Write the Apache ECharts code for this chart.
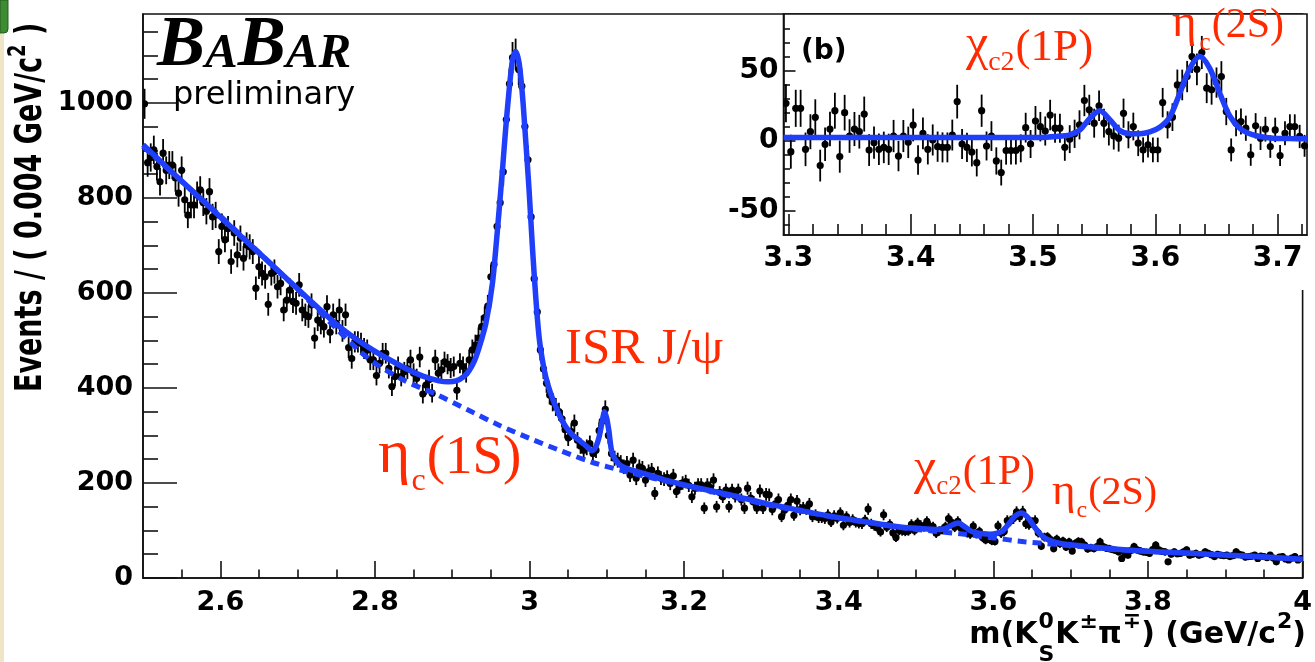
<!DOCTYPE html>
<html>
<head>
<meta charset="utf-8">
<title>BaBar preliminary: m(KsKpi)</title>
<script src="https://cdn.jsdelivr.net/npm/echarts@6.0.0/dist/echarts.min.js"></script>
<style>
html,body{margin:0;padding:0;background:#ffffff;}
#chart{width:1315px;height:662px;}
</style>
</head>
<body>
<div id="chart"></div>
<script>
// ---------------- data ----------------
const binStart = 2.502;   // centre of first bin, GeV/c^2
const binWidth = 0.004;   // GeV/c^2

const mainCounts = [
 998, 874, 885, 901, 866, 834, 894, 858, 869, 869,
 842, 810, 858, 796, 764, 785, 785, 806, 817, 790,
 772, 813, 760, 764, 687, 740, 712, 735, 666, 726,
 680, 715, 673, 701, 697, 687, 610, 655, 641, 634,
 576, 641, 645, 613, 620, 564, 585, 606, 582, 578,
 617, 564, 554, 550, 575, 505, 543, 536, 529, 571,
 517, 554, 536, 564, 520, 554, 485, 462, 497, 497,
 494, 483, 480, 459, 459, 426, 452, 473, 473, 441,
 403, 424, 445, 424, 434, 440, 459, 431, 420, 465,
 387, 406, 418, 389, 459, 431, 438, 455, 450, 442,
 445, 395, 452, 445, 432, 459, 480, 490, 505, 529,
 548, 572, 634, 660, 740, 790, 855, 965, 1040, 1095,
 1102, 1070, 1035, 950, 880, 760, 630, 560, 480, 440,
 410, 385, 370, 360, 350, 335, 312, 295, 308, 326,
 290, 278, 269, 275, 283, 262, 269, 310, 330, 355,
 300, 262, 252, 248, 243, 234, 241, 217, 248, 210,
 234, 231, 206, 224, 227, 178, 220, 210, 208, 212,
 199, 215, 182, 192, 200, 203, 195, 171, 189, 196,
 196, 147, 196, 190, 206, 150, 180, 171, 185, 150,
 185, 172, 185, 165, 147, 189, 168, 160, 147, 183,
 147, 176, 175, 144, 156, 165, 129, 143, 153, 165,
 132, 162, 144, 148, 145, 156, 129, 133, 127, 127,
 125, 133, 118, 131, 126, 137, 111, 129, 117, 123,
 117, 115, 114, 122, 145, 114, 110, 106, 97, 133,
 107, 113, 95, 85, 100, 99, 98, 99, 113, 100,
 116, 111, 108, 119, 109, 108, 94, 99, 102, 108,
 125, 117, 107, 119, 105, 99, 95, 92, 109, 93,
 98, 85, 80, 83, 78, 77, 110, 94, 98, 121,
 120, 125, 139, 129, 140, 114, 112, 117, 121, 95,
 67, 86, 87, 81, 62, 82, 72, 78, 65, 76,
 57, 73, 77, 76, 69, 61, 64, 62, 66, 76,
 66, 63, 62, 60, 58, 55, 41, 52, 48, 58,
 66, 59, 57, 55, 54, 52, 60, 69, 59, 56,
 55, 34, 50, 55, 51, 52, 55, 59, 48, 50,
 52, 48, 50, 55, 52, 49, 45, 50, 48, 47,
 48, 45, 47, 55, 50, 48, 44, 45, 46, 48,
 41, 46, 45, 43, 48, 42, 34, 44, 45, 40,
 38, 42, 45, 38, 41
];

// inset (b): background-subtracted events, bins 199 .. 305 of the main histogram
const insetFirstBin = 199;
const insetValues = [
 26.7, -7.9, 23.1, 23.1, -6.2, 6.4, 16.7, -17.8, -2.6, 8.3,
 21.4, -11.4, 20.0, 3.3, 8.3, 6.4, 19.0, -6.7, -1.4, -6.2,
 -4.8, -6.2, 3.3, -11.0, 3.3, -1.2, 11.2, -13.8, 5.2, -6.2,
 0.5, -4.3, -4.8, -4.8, 4.0, 27.9, -2.4, -4.8, -8.1, -15.7,
 21.4, -3.8, 3.3, -14.5, -22.8, -7.1, -7.1, -7.1, -5.5, 9.3,
 -2.4, 14.0, 10.0, 6.9, 18.3, 8.9, 8.9, -4.7, 1.1, 4.9,
 11.3, 28.7, 22.0, 12.5, 24.9, 12.5, 6.5, 3.4, 1.8, 19.6,
 4.2, 10.1, -1.8, -6.6, -3.0, -6.6, -6.6, 27.2, 11.3, 16.8,
 39.8, 39.8, 45.8, 60.1, 51.0, 63.0, 37.5, 36.3, 41.5, 45.8,
 20.8, -6.6, 12.5, 13.7, 8.9, -10.1, 10.6, 1.8, 8.2, -4.2,
 7.7, -10.6, 5.3, 10.1, 10.1, 3.0, -3.7
];

const fitMass = [2.500, 2.539, 2.582, 2.625, 2.668, 2.711, 2.754, 2.797, 2.840, 2.862,
 2.883, 2.895, 2.905, 2.915, 2.922, 2.929, 2.935, 2.9435, 2.952, 2.9585,
 2.965, 2.969, 2.9736, 2.978, 2.982, 2.9865, 2.991, 2.995, 2.9994, 3.0037,
 3.008, 3.0123, 3.0165, 3.0209, 3.027, 3.0338, 3.040, 3.0467, 3.055, 3.0639,
 3.073, 3.0811, 3.0855, 3.0897, 3.094, 3.097, 3.100, 3.1026, 3.1069, 3.1155,
 3.130, 3.150, 3.176, 3.219, 3.262, 3.305, 3.348, 3.391, 3.434, 3.477,
 3.5056, 3.5301, 3.5383, 3.5465, 3.5546, 3.5628, 3.571, 3.5792, 3.5873, 3.5955,
 3.6037, 3.6118, 3.620, 3.6282, 3.6363, 3.6445, 3.6527, 3.6608, 3.669, 3.6772,
 3.6853, 3.6962, 3.7234, 3.769, 3.812, 3.855, 3.898, 3.941, 4.000];
const fitCounts = [912, 852, 787, 722, 657, 592, 529, 480, 441, 425,
 415, 413, 415, 424, 437, 458, 486, 536, 620, 733,
 859, 943, 1027, 1091, 1108, 1084, 1013, 922, 817, 697,
 592, 508, 460, 424, 390, 361, 338, 319, 302, 290,
 278, 268, 275, 295, 330, 350, 335, 310, 262, 240,
 228, 219, 206, 189, 174, 157, 143, 129.5, 118.5, 108,
 104, 102, 104.5, 111.7, 115.7, 108, 98.7, 95, 93, 92.3,
 93.6, 98.8, 114, 130.4, 137, 127.5, 108.6, 91.7, 81.7, 76.4,
 73.3, 70.5, 65.9, 59.5, 55.5, 52, 48.5, 45, 39.5];

const bkgMass = [2.50, 2.55, 2.60, 2.65, 2.70, 2.75, 2.78, 2.80, 2.84, 2.88,
 2.92, 2.96, 3.00, 3.04, 3.08, 3.12, 3.16, 3.20, 3.24, 3.28,
 3.32, 3.36, 3.40, 3.44, 3.48, 3.52, 3.56, 3.60, 3.64, 3.68,
 3.72, 3.76, 3.80, 3.84, 3.88, 3.92, 3.96, 4.00];
const bkgCounts = [908, 835, 762, 685, 607, 525, 478, 452, 414, 386,
 354, 322, 294, 268, 244, 226, 210, 195, 180, 164,
 150, 138, 126, 116, 106, 99, 92.5, 84.4, 76.3, 71,
 65, 59.5, 56, 53, 50, 46.5, 43, 39];

const insetFitMass = [3.296, 3.350, 3.400, 3.450, 3.490, 3.5056, 3.518, 3.5301, 3.5383, 3.5465,
 3.5546, 3.5628, 3.571, 3.5792, 3.5873, 3.5955, 3.6037, 3.6118, 3.620, 3.6282,
 3.6363, 3.6445, 3.6527, 3.6608, 3.669, 3.6772, 3.6853, 3.6962, 3.710, 3.724];
const insetFitValues = [2.2, 2.2, 2.2, 2.2, 2.2, 2.3, 3.0, 4.2, 7.7, 16.0,
 21.3, 14.9, 7.2, 4.9, 4.9, 6.3, 9.6, 16.8, 33.9, 51.7,
 60.1, 51.7, 33.9, 17.7, 8.9, 4.9, 3.0, 1.8, 1.5, 1.3];

// tick labels / tick positions
const mainXTicks = [2.6, 2.8, 3.0, 3.2, 3.4, 3.6, 3.8, 4.0];
const mainXMinorTicks = [2.55, 2.65, 2.70, 2.75, 2.85, 2.90, 2.95, 3.05, 3.10, 3.15, 3.25,
 3.30, 3.35, 3.45, 3.50, 3.55, 3.65, 3.70, 3.75, 3.85, 3.90, 3.95];
const mainYTicks = [0, 200, 400, 600, 800, 1000];
const mainYMinorTicks = [50, 100, 150, 250, 300, 350, 450, 500, 550, 650, 700, 750,
 850, 900, 950, 1050, 1100, 1150];
const insetXTicks = [3.3, 3.4, 3.5, 3.6, 3.7];
const insetXMinorTicks = [3.32, 3.34, 3.36, 3.38, 3.42, 3.44, 3.46, 3.48, 3.52, 3.54,
 3.56, 3.58, 3.62, 3.64, 3.66, 3.68, 3.72];
const insetYTicks = [-50, 0, 50];
const insetYMinorTicks = [-60, -40, -30, -20, -10, 10, 20, 30, 40, 60, 70, 80];

// ---------------- build series data ----------------
const mainPoints = mainCounts.map((n, i) => [+(binStart + i * binWidth).toFixed(4), n, Math.sqrt(n)]);
const insetPoints = insetValues.map((v, k) => {
  const i = insetFirstBin + k;
  return [+(binStart + i * binWidth).toFixed(4), v, Math.sqrt(mainCounts[i])];
});
const fitLine = fitMass.map((m, i) => [m, fitCounts[i]]);
const bkgLine = bkgMass.map((m, i) => [m, bkgCounts[i]]);
const insetFitLine = insetFitMass.map((m, i) => [m, insetFitValues[i]]);

const BLUE = '#1f3ffb';
const RED = '#ff2a00';
const ROOTFONT = '"DejaVu Sans"';
const SERIF = '"Liberation Serif"';

function errBarItem(params, api) {
  const x = api.value(0), y = api.value(1), e = api.value(2);
  const c = api.coord([x, y]);
  const lo = api.coord([x, y - e]);
  const hi = api.coord([x, y + e]);
  return {
    type: 'group',
    children: [
      {type: 'line', shape: {x1: c[0], y1: lo[1], x2: c[0], y2: hi[1]}, style: {stroke: '#000', lineWidth: 1.8}},
      {type: 'circle', shape: {cx: c[0], cy: c[1], r: 3.6}, style: {fill: '#000'}}
    ]
  };
}

// ---------------- text helpers ----------------
const mctx = document.createElement('canvas').getContext('2d');
function textW(t, font) { mctx.font = font; return mctx.measureText(t).width; }
const BASE = 0.34;
function fontOf(size, family, o) {
  return (o.italic ? 'italic ' : '') + (o.bold ? 'bold ' : '') + size + 'px ' + family;
}
function txt(t, x, baseline, size, family, o) {
  o = o || {};
  return {type: 'text', x: x, y: baseline - BASE * size, z: o.z || 50, silent: true,
    style: {text: t, font: fontOf(size, family, o), fill: o.color || '#000', align: 'left', verticalAlign: 'middle'}};
}
function run(pieces, x0, baseline, family, o) {
  o = o || {};
  const items = [];
  let cur = 0;
  pieces.forEach(p => {
    const parts = p.stack || [p];
    cur += p.gapL || 0;
    let maxW = 0;
    parts.forEach(q => {
      const f = fontOf(q.s, family, o);
      maxW = Math.max(maxW, textW(q.t, f));
      items.push({t: q.t, s: q.s, x: cur, dy: q.dy || 0});
    });
    cur += maxW + (p.gapR || 0);
  });
  const shift = o.align === 'right' ? x0 - cur : x0;
  return items.map(it => txt(it.t, shift + it.x, baseline + it.dy, it.s, family, o));
}

// ---------------- graphic elements ----------------
const graphics = [];
// slide remnants at the left edge
graphics.push({type: 'rect', shape: {x: 0, y: 34, width: 4, height: 628}, style: {fill: '#efe6c8'}, z: 1, silent: true});
graphics.push({type: 'rect', shape: {x: 0, y: 0, width: 8, height: 33, r: [0, 0, 4, 0]}, style: {fill: '#3d8c33', stroke: '#245a1e', lineWidth: 1}, z: 1, silent: true});
// white pad of the inset
graphics.push({type: 'rect', shape: {x: 720, y: 15, width: 595, height: 275}, style: {fill: '#ffffff'}, z: 10, silent: true});

// BABAR logo + preliminary
graphics.push(...run([{t: 'B', s: 72}, {t: 'A', s: 49}, {t: 'B', s: 72}, {t: 'A', s: 49}, {t: 'R', s: 49}],
  157, 71, SERIF, {bold: true, italic: true}));
graphics.push(txt('preliminary', 173, 107, 32, ROOTFONT, {}));
graphics.push(txt('(b)', 801, 61, 28, ROOTFONT, {bold: true, z: 30}));

// red annotations, main pad
const redMain = {color: RED};
graphics.push(txt('ISR J/\u03c8', 565, 367, 51, SERIF, redMain));
graphics.push(...run([{t: '\u03b7', s: 62}, {t: 'c', s: 32, dy: 15, gapL: 1}, {t: '(1S)', s: 55, gapL: 1}],
  378, 477, SERIF, redMain));
graphics.push(...run([{t: '\u03c7', s: 50}, {t: 'c2', s: 27, dy: 9, gapL: 0}, {t: '(1P)', s: 42, gapL: 1}],
  914, 487, SERIF, redMain));
graphics.push(...run([{t: '\u03b7', s: 45}, {t: 'c', s: 24, dy: 12, gapL: 1}, {t: '(2S)', s: 40, gapL: 1}],
  1052, 507, SERIF, redMain));
// red annotations, inset
const redInset = {color: RED, z: 30};
graphics.push(...run([{t: '\u03c7', s: 50}, {t: 'c2', s: 28, dy: 9, gapL: 0}, {t: '(1P)', s: 45, gapL: 1}],
  966, 63, SERIF, redInset));
graphics.push(...run([{t: '\u03b7', s: 47}, {t: 'c', s: 25, dy: 12, gapL: 3}, {t: '(2S)', s: 42, gapL: 1}],
  1172, 40, SERIF, redInset));

// x axis title  m(K0S K± π∓) (GeV/c2)
graphics.push(...run([
  {t: 'm(K', s: 30},
  {stack: [{t: '0', s: 22, dy: -15}, {t: 'S', s: 22, dy: 18}], gapL: 1, gapR: 1},
  {t: 'K', s: 30},
  {t: '\u00b1', s: 22, dy: -15, gapL: 1},
  {t: '\u03c0', s: 30},
  {t: '\u2213', s: 22, dy: -15, gapL: 1},
  {t: ') (GeV/c', s: 30},
  {t: '2', s: 22, dy: -15, gapL: 1},
  {t: ')', s: 30}
], 1306, 645, ROOTFONT, {bold: true, align: 'right'}));

// y axis title (rotated)
graphics.push({
  type: 'group', x: 44, y: 392, rotation: Math.PI / 2, scaleY: 1.4, z: 50,
  children: run([
    {t: 'Events / ( 0.004 GeV/c', s: 27},
    {t: '2', s: 18, dy: -12},
    {t: ' )', s: 27}
  ], 0, 0, ROOTFONT, {bold: true})
});

// ---------------- axes ----------------
const AXC = '#111';
function labelStyle(size, margin, fmt) {
  return {fontFamily: 'DejaVu Sans', fontWeight: 'bold', fontSize: size, color: '#000', margin: margin, formatter: fmt};
}
const fmtMainX = v => String(Math.round(v * 10) / 10);
const fmtInsetX = v => (Math.round(v * 10) / 10).toFixed(1);
const fmtInt = v => String(Math.round(v));

function valAxis(o) {
  return Object.assign({
    type: 'value', splitLine: {show: false}, minorTick: {show: false}, minorSplitLine: {show: false},
    axisPointer: {show: false}
  }, o);
}

const option = {
  animation: false,
  backgroundColor: '#ffffff',
  grid: [
    {left: 143, top: 14, width: 1164, height: 564, show: true, borderColor: AXC, borderWidth: 1.6, backgroundColor: 'rgba(0,0,0,0)', z: 0},
    {left: 783.5, top: 14, width: 523.5, height: 221, show: true, borderColor: AXC, borderWidth: 1.6, backgroundColor: '#ffffff', z: 11}
  ],
  xAxis: [
    valAxis({gridIndex: 0, position: 'bottom', min: 2.5, max: 4.0, z: 1,
      axisLine: {show: true, onZero: false, lineStyle: {color: AXC, width: 1.6}},
      axisTick: {show: true, inside: true, length: 17, customValues: mainXTicks, lineStyle: {color: AXC, width: 1.6}},
      axisLabel: Object.assign({show: true, customValues: mainXTicks}, labelStyle(27, 11, fmtMainX))}),
    valAxis({gridIndex: 0, position: 'bottom', min: 2.5, max: 4.0, z: 1,
      axisLine: {show: false, onZero: false},
      axisTick: {show: true, inside: true, length: 8.5, customValues: mainXMinorTicks, lineStyle: {color: AXC, width: 1.6}},
      axisLabel: {show: false}}),
    valAxis({gridIndex: 1, position: 'bottom', min: 3.296, max: 3.724, z: 11,
      axisLine: {show: true, onZero: false, lineStyle: {color: AXC, width: 1.6}},
      axisTick: {show: true, inside: true, length: 21, customValues: insetXTicks, lineStyle: {color: AXC, width: 1.6}},
      axisLabel: Object.assign({show: true, customValues: insetXTicks}, labelStyle(28, 10, fmtInsetX))}),
    valAxis({gridIndex: 1, position: 'bottom', min: 3.296, max: 3.724, z: 11,
      axisLine: {show: false, onZero: false},
      axisTick: {show: true, inside: true, length: 11, customValues: insetXMinorTicks, lineStyle: {color: AXC, width: 1.6}},
      axisLabel: {show: false}})
  ],
  yAxis: [
    valAxis({gridIndex: 0, position: 'left', min: 0, max: 1187, z: 1,
      axisLine: {show: true, onZero: false, lineStyle: {color: AXC, width: 1.6}},
      axisTick: {show: true, inside: true, length: 34, customValues: mainYTicks, lineStyle: {color: AXC, width: 1.6}},
      axisLabel: Object.assign({show: true, customValues: mainYTicks}, labelStyle(27, 10, fmtInt))}),
    valAxis({gridIndex: 0, position: 'left', min: 0, max: 1187, z: 1,
      axisLine: {show: false, onZero: false},
      axisTick: {show: true, inside: true, length: 15, customValues: mainYMinorTicks, lineStyle: {color: AXC, width: 1.6}},
      axisLabel: {show: false}}),
    valAxis({gridIndex: 1, position: 'left', min: -67.4, max: 90.5, z: 11,
      axisLine: {show: true, onZero: false, lineStyle: {color: AXC, width: 1.6}},
      axisTick: {show: true, inside: true, length: 12, customValues: insetYTicks, lineStyle: {color: AXC, width: 1.6}},
      axisLabel: Object.assign({show: true, customValues: insetYTicks}, labelStyle(28, 5, fmtInt))}),
    valAxis({gridIndex: 1, position: 'left', min: -67.4, max: 90.5, z: 11,
      axisLine: {show: false, onZero: false},
      axisTick: {show: true, inside: true, length: 6.5, customValues: insetYMinorTicks, lineStyle: {color: AXC, width: 1.6}},
      axisLabel: {show: false}})
  ],
  series: [
    {type: 'custom', name: 'data', renderItem: errBarItem, data: mainPoints,
      dimensions: ['m', 'n', 'err'], encode: {x: 0, y: 1},
      xAxisIndex: 0, yAxisIndex: 0, z: 2, silent: true, clip: true},
    {type: 'line', name: 'background', data: bkgLine, xAxisIndex: 0, yAxisIndex: 0,
      showSymbol: false, symbol: 'none', smooth: 0.3, z: 3, silent: true,
      lineStyle: {color: BLUE, width: 5, type: [9, 6]}},
    {type: 'line', name: 'fit', data: fitLine, xAxisIndex: 0, yAxisIndex: 0,
      showSymbol: false, symbol: 'none', smooth: 0.25, z: 4, silent: true,
      lineStyle: {color: BLUE, width: 5.5}},
    {type: 'custom', name: 'inset data', renderItem: errBarItem, data: insetPoints,
      dimensions: ['m', 'v', 'err'], encode: {x: 0, y: 1},
      xAxisIndex: 2, yAxisIndex: 2, z: 12, silent: true, clip: true,
      markLine: {silent: true, symbol: 'none', label: {show: false}, animation: false,
        lineStyle: {color: '#000', width: 1.2, type: 'solid'}, data: [{yAxis: 0}]}},
    {type: 'line', name: 'inset fit', data: insetFitLine, xAxisIndex: 2, yAxisIndex: 2,
      showSymbol: false, symbol: 'none', smooth: 0.3, z: 13, silent: true,
      lineStyle: {color: BLUE, width: 5.5}}
  ],
  graphic: {elements: graphics}
};

const chart = echarts.init(document.getElementById('chart'), null, {renderer: 'canvas'});
chart.setOption(option);
</script>
</body>
</html>
